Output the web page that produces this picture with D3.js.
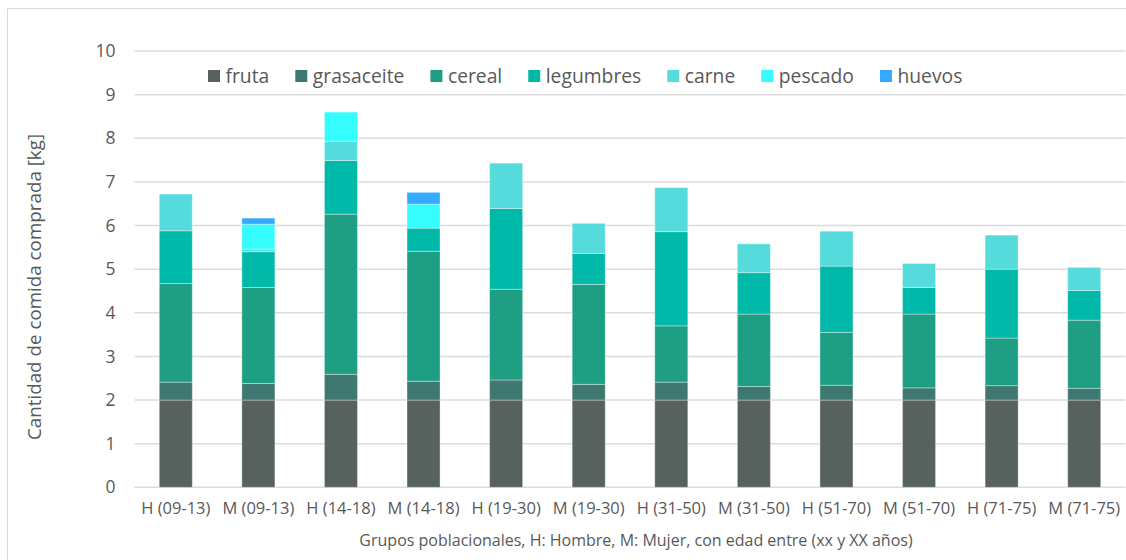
<!DOCTYPE html>
<html>
<head>
<meta charset="utf-8">
<script src="https://cdn.jsdelivr.net/npm/d3@7"></script>
<style>
  html, body { margin: 0; padding: 0; background: #ffffff; }
  svg { display: block; font-family: "Open Sans", "DejaVu Sans", sans-serif; }
</style>
</head>
<body>
<svg id="chart" width="1126" height="560"></svg>
<script>
// Population groups (H = hombre, M = mujer, age range)
const categories = ["H (09-13)", "M (09-13)", "H (14-18)", "M (14-18)", "H (19-30)", "M (19-30)",
                    "H (31-50)", "M (31-50)", "H (51-70)", "M (51-70)", "H (71-75)", "M (71-75)"];

// Purchased food per group, kg, one array per food type (stacked bottom to top)
const fruta      = [2.00, 2.00, 2.00, 2.00, 2.00, 2.00, 2.00, 2.00, 2.00, 2.00, 2.00, 2.00];
const grasaceite = [0.41, 0.38, 0.59, 0.43, 0.46, 0.36, 0.41, 0.31, 0.34, 0.28, 0.33, 0.27];
const cereal     = [2.26, 2.20, 3.67, 2.98, 2.08, 2.29, 1.29, 1.66, 1.21, 1.69, 1.09, 1.56];
const legumbres  = [1.21, 0.82, 1.23, 0.53, 1.85, 0.71, 2.16, 0.95, 1.52, 0.61, 1.58, 0.68];
const carne      = [0.84, 0.06, 0.44, 0.00, 1.04, 0.69, 1.01, 0.66, 0.80, 0.55, 0.78, 0.53];
const pescado    = [0.00, 0.57, 0.67, 0.55, 0.00, 0.00, 0.00, 0.00, 0.00, 0.00, 0.00, 0.00];
const huevos     = [0.00, 0.14, 0.00, 0.27, 0.00, 0.00, 0.00, 0.00, 0.00, 0.00, 0.00, 0.00];

const seriesNames = ["fruta", "grasaceite", "cereal", "legumbres", "carne", "pescado", "huevos"];
const seriesValues = [fruta, grasaceite, cereal, legumbres, carne, pescado, huevos];
const seriesColors = ["#57625f", "#3e7870", "#1e9e83", "#00b9a8", "#56dbdc", "#35fdfd", "#33aaff"];

const yTicks = [0, 1, 2, 3, 4, 5, 6, 7, 8, 9, 10];
const yTitle = "Cantidad de comida comprada [kg]";
const xTitle = "Grupos poblacionales, H: Hombre, M: Mujer, con edad entre (xx y XX años)";

const textColor = "#595959";
const gridColor = "#dcdcdc";

// Build the row table for d3.stack
const rows = categories.map((c, i) => {
  const r = { group: c };
  seriesNames.forEach((s, k) => { r[s] = seriesValues[k][i]; });
  return r;
});
const stacked = d3.stack().keys(seriesNames)(rows);

const svg = d3.select("#chart");
const plot = { left: 134.5, right: 1125.5, top: 51, bottom: 487.3 };

const x = d3.scaleBand()
  .domain(categories)
  .range([plot.left, plot.right])
  .paddingInner(0.6)
  .paddingOuter(0.3);

const y = d3.scaleLinear()
  .domain([0, 10])
  .range([plot.bottom, plot.top]);

// Chart frame
svg.append("path")
  .attr("d", "M7.5,560 V8.5 H1126")
  .attr("fill", "none")
  .attr("stroke", "#d9d9d9")
  .attr("stroke-width", 1);

// Horizontal gridlines
svg.append("g")
  .selectAll("line")
  .data(yTicks)
  .join("line")
  .attr("x1", plot.left)
  .attr("x2", plot.right)
  .attr("y1", d => y(d))
  .attr("y2", d => y(d))
  .attr("stroke", gridColor)
  .attr("stroke-width", 1.5);

// Y axis tick labels
const yAxis = svg.append("g")
  .attr("transform", `translate(${plot.left - 19},0)`)
  .call(d3.axisLeft(y).tickValues(yTicks).tickSize(0).tickPadding(0).tickFormat(d3.format("d")));
yAxis.select(".domain").remove();
yAxis.selectAll("text")
  .attr("fill", textColor)
  .attr("font-size", 17.5)
  .attr("font-family", "\"Open Sans\", sans-serif");

// Stacked bars
svg.append("g")
  .selectAll("g")
  .data(stacked)
  .join("g")
  .attr("fill", (d, i) => seriesColors[i])
  .selectAll("rect")
  .data(d => d.filter(p => p[1] - p[0] > 0))
  .join("rect")
  .attr("x", d => x(d.data.group))
  .attr("width", x.bandwidth())
  .attr("y", d => y(d[1]))
  .attr("height", d => y(d[0]) - y(d[1]))
  .attr("stroke", "#ffffff")
  .attr("stroke-opacity", 0.35)
  .attr("stroke-width", 1);

// X axis category labels
const xAxis = svg.append("g")
  .attr("transform", `translate(0,${plot.bottom})`)
  .call(d3.axisBottom(x).tickSize(0).tickPadding(15));
xAxis.select(".domain").remove();
xAxis.selectAll("text")
  .attr("fill", textColor)
  .attr("font-size", 16.5)
  .attr("font-family", "\"Open Sans\", sans-serif");

// Axis titles
svg.append("text")
  .attr("x", 636)
  .attr("y", 546)
  .attr("text-anchor", "middle")
  .attr("fill", textColor)
  .attr("font-size", 16)
  .text(xTitle);

svg.append("text")
  .attr("transform", "translate(41,287) rotate(-90)")
  .attr("text-anchor", "middle")
  .attr("fill", textColor)
  .attr("font-size", 18.8)
  .text(yTitle);

// Legend laid out left to right by measured text width
const legend = svg.append("g").attr("transform", "translate(208,76)");
let cursor = 0;
seriesNames.forEach((name, i) => {
  const item = legend.append("g").attr("transform", `translate(${cursor},0)`);
  item.append("rect")
    .attr("x", 0).attr("y", -6)
    .attr("width", 12).attr("height", 12)
    .attr("fill", seriesColors[i]);
  const t = item.append("text")
    .attr("x", 17.5)
    .attr("dy", "0.35em")
    .attr("fill", textColor)
    .attr("font-size", 19.3)
    .text(name);
  cursor += 17.5 + t.node().getComputedTextLength() + 26;
});
</script>
</body>
</html>
